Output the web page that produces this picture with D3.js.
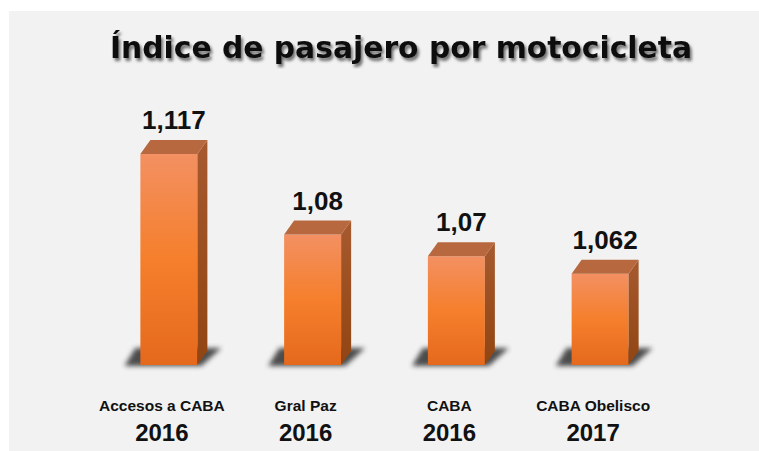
<!DOCTYPE html>
<html lang="es">
<head>
    <meta charset="UTF-8">
    <title>Índice de pasajero por motocicleta</title>
    <script src="https://d3js.org/d3.v7.min.js"></script>
    <style>
        body { margin: 0; padding: 0; background: #fff; }
        svg { display: block; }
    </style>
</head>
<body>
<svg id="chart" width="759" height="451"></svg>
<script>
    // chart data
    const categories = ["Accesos a CABA", "Gral Paz", "CABA", "CABA Obelisco"];
    const years = ["2016", "2016", "2016", "2017"];
    const values = [1.117, 1.08, 1.07, 1.062];

    const svg = d3.select("#chart");
    const fmt = d3.formatLocale({ decimal: ",", thousands: ".", grouping: [3], currency: ["$", ""] }).format("");

    const baseY = 365, depthX = 10, depthY = 14, barW = 57;

    const x = d3.scaleBand().domain(categories).range([97, 672]).padding(0);
    const y = d3.scaleLinear().domain([1.02, 1.14]).range([baseY, 104]);

    const defs = svg.append("defs");
    const grad = defs.append("linearGradient").attr("id", "front")
        .attr("x1", 0).attr("y1", 0).attr("x2", 0).attr("y2", 1);
    grad.append("stop").attr("offset", "0%").attr("stop-color", "#f39062");
    grad.append("stop").attr("offset", "50%").attr("stop-color", "#f57f2c");
    grad.append("stop").attr("offset", "100%").attr("stop-color", "#e5691d");
    const side = defs.append("linearGradient").attr("id", "side")
        .attr("x1", 0).attr("y1", 0).attr("x2", 0).attr("y2", 1);
    side.append("stop").attr("offset", "0%").attr("stop-color", "#a65a2e");
    side.append("stop").attr("offset", "100%").attr("stop-color", "#914513");
    defs.append("filter").attr("id", "blur")
        .attr("x", "-30%").attr("y", "-50%").attr("width", "160%").attr("height", "200%")
        .append("feGaussianBlur").attr("stdDeviation", 2.5);
    defs.append("filter").attr("id", "tshadow")
        .append("feDropShadow").attr("dx", 2).attr("dy", 3).attr("stdDeviation", 1.6)
        .attr("flood-color", "#000").attr("flood-opacity", 0.55);

    // panel
    svg.append("rect").attr("x", 9).attr("y", 11).attr("width", 750).attr("height", 440).attr("fill", "#f2f2f2");

    // title
    svg.append("text")
        .attr("x", 401).attr("y", 58)
        .attr("text-anchor", "middle")
        .attr("font-family", "'DejaVu Sans', sans-serif")
        .attr("font-weight", "bold")
        .attr("font-size", 31)
        .attr("textLength", 582)
        .attr("lengthAdjust", "spacingAndGlyphs")
        .attr("fill", "#111")
        .attr("filter", "url(#tshadow)")
        .text("Índice de pasajero por motocicleta");

    const bars = svg.selectAll(".bar").data(values).enter().append("g").attr("class", "bar");
    const x0 = (d, i) => x(categories[i]) + (x.bandwidth() - barW) / 2;

    // base shadow
    bars.append("polygon")
        .attr("points", (d, i) => {
            const a = x0(d, i), b = a + barW;
            return [[a - 16, baseY + 1], [a - 5, baseY - 17], [b + 24, baseY - 17], [b + 4, baseY + 1]].join(" ");
        })
        .attr("fill", "#3a3a3a").attr("opacity", 0.9)
        .attr("filter", "url(#blur)");

    // front
    bars.append("rect")
        .attr("x", x0)
        .attr("y", d => y(d))
        .attr("width", barW)
        .attr("height", d => baseY - y(d))
        .attr("fill", "url(#front)");

    // side
    bars.append("polygon")
        .attr("points", (d, i) => {
            const b = x0(d, i) + barW, t = y(d);
            return [[b, t], [b + depthX, t - depthY], [b + depthX, baseY - depthY], [b, baseY]].join(" ");
        })
        .attr("fill", "url(#side)");

    // top
    bars.append("polygon")
        .attr("points", (d, i) => {
            const a = x0(d, i), t = y(d);
            return [[a, t], [a + depthX, t - depthY], [a + barW + depthX, t - depthY], [a + barW, t]].join(" ");
        })
        .attr("fill", "#b8683e");

    // value labels
    bars.append("text")
        .attr("x", (d, i) => x0(d, i) + (barW + depthX) / 2)
        .attr("y", d => y(d) - depthY - 11)
        .attr("text-anchor", "middle")
        .attr("font-family", "'Liberation Sans', Arial, sans-serif")
        .attr("font-weight", "bold")
        .attr("font-size", 26)
        .attr("fill", "#111")
        .text(d => fmt(d));

    // category labels
    bars.append("text")
        .attr("x", (d, i) => x(categories[i]) + x.bandwidth() / 2 - 7)
        .attr("y", 411)
        .attr("text-anchor", "middle")
        .attr("font-family", "'Liberation Sans', Arial, sans-serif")
        .attr("font-weight", "bold")
        .attr("font-size", 15.5)
        .attr("fill", "#111")
        .text((d, i) => categories[i]);

    bars.append("text")
        .attr("x", (d, i) => x(categories[i]) + x.bandwidth() / 2 - 7)
        .attr("y", 441)
        .attr("text-anchor", "middle")
        .attr("font-family", "'Liberation Sans', Arial, sans-serif")
        .attr("font-weight", "bold")
        .attr("font-size", 24)
        .attr("fill", "#111")
        .text((d, i) => years[i]);
</script>
</body>
</html>
